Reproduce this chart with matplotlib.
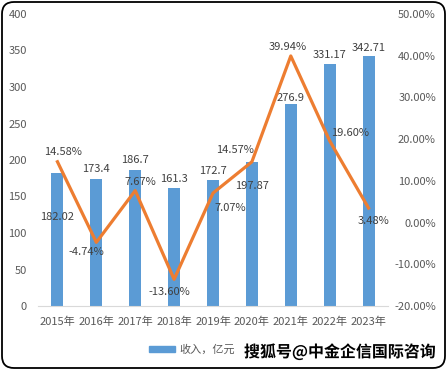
import matplotlib
matplotlib.use("Agg")
import matplotlib.pyplot as plt
from matplotlib.patches import FancyBboxPatch, Patch
import matplotlib.patheffects as pe
import numpy as np

plt.rcParams['font.family'] = ['Noto Sans CJK SC', 'DejaVu Sans']

years = ["2015年", "2016年", "2017年", "2018年", "2019年", "2020年", "2021年", "2022年", "2023年"]
revenue = [182.02, 173.4, 186.7, 161.3, 172.7, 197.87, 276.9, 331.17, 342.71]
growth = [14.58, -4.74, 7.67, -13.60, 7.07, 14.57, 39.94, 19.60, 3.48]
revenue_labels = ["182.02", "173.4", "186.7", "161.3", "172.7", "197.87", "276.9", "331.17", "342.71"]
growth_labels = ["14.58%", "-4.74%", "7.67%", "-13.60%", "7.07%", "14.57%", "39.94%", "19.60%", "3.48%"]
legend_label = "收入，亿元"
watermark = "搜狐号@中金企信国际咨询"

# label offsets in pixels (style, not data)
rev_off = [(0, -44), (0, 10), (0, 10), (0, 9), (0, 9), (0, -24), (0, 6), (0, 9), (0, 8)]
gr_off = [(6, 10), (-10, -10), (5, 9), (-5, -13), (17, -15), (-17, 12), (-3, 9), (20, 8), (5, -13)]

BLUE = "#5B9BD5"
ORANGE = "#ED7D31"
TXT = "#595959"

W, H = 447, 370
fig = plt.figure(figsize=(W / 100, H / 100), dpi=100)
ax = fig.add_axes([38 / W, (H - 306) / H, 350 / W, 292 / H])
ax2 = ax.twinx()

x = np.arange(len(years))
ax.bar(x, revenue, width=0.31, color=BLUE, zorder=2)
ax.set_xlim(-0.5, len(years) - 0.5)
ax.set_ylim(0, 400)
ax.set_yticks(np.arange(0, 401, 50))
ax.set_xticks(x)
ax.set_xticklabels(years)

ax2.plot(x, growth, color=ORANGE, lw=2.3, zorder=3)
ax2.set_ylim(-20, 50)
ax2.set_yticks(np.arange(-20, 51, 10))
ax2.set_yticklabels([f"{v:.2f}%" for v in np.arange(-20, 51, 10)])

for a in (ax, ax2):
    for s in a.spines.values():
        s.set_visible(False)
ax.spines['bottom'].set_visible(True)
ax.spines['bottom'].set_color("#D9D9D9")

ax.tick_params(axis='y', length=0, pad=8, labelsize=8, labelcolor=TXT)
ax.tick_params(axis='x', length=0, pad=8, labelsize=8, labelcolor=TXT)
ax2.tick_params(axis='y', length=0, pad=34.5, labelsize=8, labelcolor=TXT)
for lab in ax2.get_yticklabels():
    lab.set_ha('right')

for i, (v, t) in enumerate(zip(revenue, revenue_labels)):
    ax.annotate(t, (x[i], v), xytext=rev_off[i], textcoords='offset pixels',
                ha='center', va='center', fontsize=8, color="#404040", zorder=5)
for i, (v, t) in enumerate(zip(growth, growth_labels)):
    ax2.annotate(t, (x[i], v), xytext=gr_off[i], textcoords='offset pixels',
                 ha='center', va='center', fontsize=8, color="#404040", zorder=5)

fig.legend(handles=[Patch(color=BLUE)], labels=[legend_label], loc='center',
           bbox_to_anchor=(192 / W, (H - 350) / H), frameon=False, fontsize=8,
           handlelength=2.4, handleheight=0.5, handletextpad=0.4, labelcolor=TXT)

fig.text(340 / W, (H - 352) / H, watermark, ha='center', va='center', fontsize=11.5,
         fontweight='bold', color='black',
         path_effects=[pe.withStroke(linewidth=2, foreground='white')])

box = FancyBboxPatch((0.02, 0.02), W / 100 - 0.04, H / 100 - 0.04,
                     boxstyle="round,pad=0,rounding_size=0.12",
                     transform=fig.dpi_scale_trans, fill=False, ec='black', lw=1.3)
fig.patches.append(box)

fig.savefig("out.png", dpi=100)
